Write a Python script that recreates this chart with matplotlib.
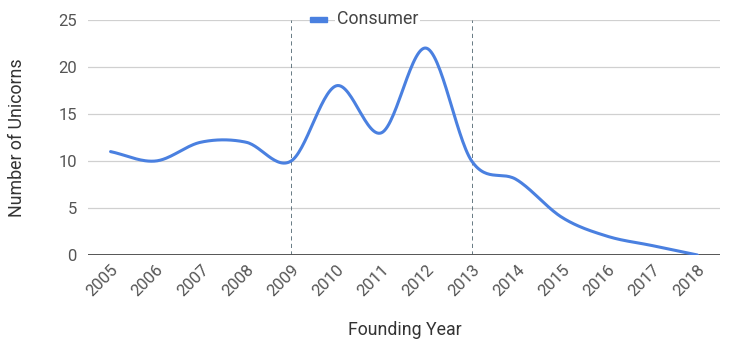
import numpy as np
import matplotlib
matplotlib.use("Agg")
import matplotlib.pyplot as plt

plt.rcParams['font.family'] = ['Roboto', 'DejaVu Sans']

years = ['2005', '2006', '2007', '2008', '2009', '2010', '2011',
         '2012', '2013', '2014', '2015', '2016', '2017', '2018']
consumer = [11, 10, 12, 12, 10, 18, 13, 22, 10, 8, 4, 2, 1, 0]
marked_years = ['2009', '2013']
yticks = [0, 5, 10, 15, 20, 25]

def smooth(xs, ys, n=30, tension=0.5):
    xs = np.asarray(xs, float); ys = np.asarray(ys, float)
    out_x, out_y = [], []
    m = np.zeros_like(ys)
    m[1:-1] = (ys[2:] - ys[:-2]) / (xs[2:] - xs[:-2])
    m[0] = (ys[1] - ys[0]) / (xs[1] - xs[0])
    m[-1] = (ys[-1] - ys[-2]) / (xs[-1] - xs[-2])
    m *= tension * 2
    for i in range(len(xs) - 1):
        h = xs[i + 1] - xs[i]
        t = np.linspace(0, 1, n, endpoint=(i == len(xs) - 2))
        h00 = 2*t**3 - 3*t**2 + 1
        h10 = t**3 - 2*t**2 + t
        h01 = -2*t**3 + 3*t**2
        h11 = t**3 - t**2
        out_x.append(xs[i] + t*h)
        out_y.append(h00*ys[i] + h10*h*m[i] + h01*ys[i+1] + h11*h*m[i+1])
    return np.concatenate(out_x), np.concatenate(out_y)

fig = plt.figure(figsize=(7.32, 3.54), dpi=100)
ax = fig.add_axes([88/732, 1-255/354, (720-88)/732, (255-20)/354])

x = np.arange(len(years))
sx, sy = smooth(x, consumer)
ax.plot(sx, sy, color='#4a80e0', lw=2.2, solid_capstyle='round', zorder=3)

for yv in yticks[1:]:
    ax.axhline(yv, color='#d0d0d0', lw=0.9, zorder=1)
ax.axhline(0, color='#555555', lw=1.4, zorder=2)
for yr in marked_years:
    ax.axvline(years.index(yr), color='#4f6570', lw=0.6, ls=(0, (5, 4)), zorder=1.5)

ax.set_xlim(-0.5, len(years) - 0.5)
ax.set_ylim(0, 25)
ax.set_xticks(x)
ax.set_xticklabels(years, rotation=45, ha='right', va='top',
                   rotation_mode='anchor', fontsize=12, color='#555555')
ax.set_yticks(yticks)
ax.set_yticklabels([str(v) for v in yticks], fontsize=12, color='#555555')
ax.tick_params(length=0, pad=8)
ax.tick_params(axis='x', pad=5)
for s in ax.spines.values():
    s.set_visible(False)

ax.set_ylabel('Number of Unicorns', fontsize=12.8, color='#333333')
ax.yaxis.set_label_coords(-0.098, 0.5)
fig.text(405/732, 1-330/354, 'Founding Year', ha='center', va='center',
         fontsize=12.8, color='#333333')

# legend
fig.patches.append(plt.Rectangle((310/732, 1-22/354), 17/732, 5/354,
                                 transform=fig.transFigure, color='#4a80e0',
                                 figure=fig, zorder=5))
fig.text(337/732, 1-19/354, 'Consumer', ha='left', va='center', fontsize=12.8,
         color='#444444', zorder=5,
         bbox=dict(boxstyle='square,pad=0.1', fc='white', ec='none'))

fig.savefig('out.png', dpi=100)
